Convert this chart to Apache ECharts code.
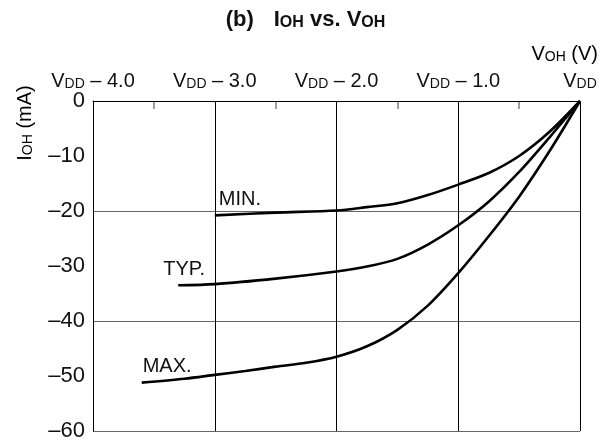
<!DOCTYPE html>
<html>
<head>
<meta charset="utf-8">
<script src="https://cdn.jsdelivr.net/npm/echarts@6/dist/echarts.min.js"></script>
<style>
  html, body { margin: 0; padding: 0; background: #fff; }
  #chart { width: 611px; height: 442px; }
</style>
</head>
<body>
<div id="chart"></div>
<script>
// Output current vs. output voltage, measured downward from VDD
const xTickVolts = [-4, -3, -2, -1, 0];
const xTickSuffix = [' – 4.0', ' – 3.0', ' – 2.0', ' – 1.0', ''];
const xHalfTicks = [-3.5, -2.5, -1.5, -0.5];
const yTickValues = [0, -10, -20, -30, -40, -50, -60];
const yTickLabels = ['0', '–10', '–20', '–30', '–40', '–50', '–60'];

const curveNames = ['MIN.', 'TYP.', 'MAX.'];

const voltsMin = [-3.0, -2.5, -2.0, -1.75, -1.5, -1.25, -1.0, -0.75, -0.5, -0.25, 0];
const currentMin = [-20.8, -20.3, -19.9, -19.3, -18.6, -17.1, -15.2, -13.1, -10.0, -5.6, 0];

const voltsTyp = [-3.3, -3.0, -2.5, -2.0, -1.75, -1.5, -1.25, -1.0, -0.75, -0.5, -0.25, 0];
const currentTyp = [-33.5, -33.3, -32.3, -31.0, -30.1, -28.7, -26.1, -22.6, -18.3, -12.9, -6.6, 0];

const voltsMax = [-3.6, -3.25, -3.0, -2.75, -2.5, -2.25, -2.0, -1.75, -1.5, -1.25, -1.0, -0.75, -0.5, -0.25, 0];
const currentMax = [-51.2, -50.5, -49.8, -49.1, -48.3, -47.6, -46.5, -44.6, -41.6, -37.2, -31.3, -24.6, -17.4, -9.1, 0];

const FONT = 'Liberation Sans, Arial, Helvetica, sans-serif';

const subRich = {
  v: { fontFamily: FONT, fontSize: 20, color: '#111', lineHeight: 22, verticalAlign: 'bottom' },
  s: { fontFamily: FONT, fontSize: 14, color: '#111', lineHeight: 18, verticalAlign: 'bottom' }
};

// Curve label sits just above the first (leftmost) point of each curve
const labelShift = [[4, 0], [-15, 0], [1, 0]];

function buildSeries(idx, xs, ys) {
  const data = xs.map((x, i) => {
    if (i === 0) {
      return {
        value: [x, ys[i]],
        label: {
          show: true,
          formatter: curveNames[idx],
          position: 'top',
          align: 'left',
          distance: 6,
          offset: labelShift[idx],
          fontFamily: FONT,
          fontSize: 20,
          color: '#111'
        }
      };
    }
    return [x, ys[i]];
  });
  return {
    name: curveNames[idx],
    type: 'line',
    xAxisIndex: 0,
    yAxisIndex: 0,
    data: data,
    smooth: 0.3,
    symbol: 'circle',
    symbolSize: 0,
    showSymbol: true,
    lineStyle: { color: '#000', width: 2.6 },
    itemStyle: { color: '#000' },
    label: { show: false },
    emphasis: { disabled: true },
    z: 5
  };
}

const chart = echarts.init(document.getElementById('chart'), null, { renderer: 'canvas' });

chart.setOption({
  animation: false,
  backgroundColor: '#fff',
  title: {
    text: '{b|(b)}{gap|}{b|I}{s|OH}{b| vs. V}{s|OH}',
    left: 'center',
    top: 0,
    textStyle: {
      rich: {
        b: { fontFamily: FONT, fontWeight: 'bold', fontSize: 22, color: '#111', lineHeight: 26, verticalAlign: 'bottom' },
        s: { fontFamily: FONT, fontWeight: 'bold', fontSize: 16, color: '#111', lineHeight: 21, verticalAlign: 'bottom' },
        gap: { width: 20 }
      }
    }
  },
  grid: { left: 93, right: 31, top: 101, bottom: 10, containLabel: false },
  xAxis: [{
    type: 'value',
    position: 'top',
    min: -4,
    max: 0,
    interval: 1,
    axisLine: { show: true, onZero: false, lineStyle: { color: '#000', width: 1 } },
    axisTick: { show: false },
    splitLine: { show: true, lineStyle: { color: '#000', width: 1 } },
    axisLabel: {
      margin: 10,
      formatter: function (v) {
        const i = xTickVolts.indexOf(Math.round(v));
        return '{v|V}{s|DD}{v|' + (i >= 0 ? xTickSuffix[i] : '') + '}';
      },
      rich: subRich
    },
    z: 3
  }, {
    // short inward ticks at the half-volt steps
    type: 'value',
    position: 'top',
    min: -4,
    max: 0,
    axisLine: { show: false },
    axisLabel: { show: false },
    splitLine: { show: false },
    axisTick: {
      show: true,
      inside: true,
      length: 8,
      customValues: xHalfTicks,
      lineStyle: { color: '#888', width: 1.6 }
    }
  }],
  yAxis: [{
    type: 'value',
    min: -60,
    max: 0,
    interval: 10,
    axisLine: { show: true, onZero: false, lineStyle: { color: '#000', width: 1 } },
    axisTick: { show: false },
    splitLine: { show: false },
    axisLabel: {
      margin: 8,
      fontFamily: FONT,
      fontSize: 22,
      color: '#111',
      formatter: function (v) {
        const i = yTickValues.indexOf(Math.round(v));
        return i >= 0 ? yTickLabels[i] : '';
      }
    }
  }, {
    // carries the horizontal rules every 20 mA
    type: 'value',
    min: -60,
    max: 0,
    interval: 20,
    position: 'right',
    axisLine: { show: false },
    axisTick: { show: false },
    axisLabel: { show: false },
    splitLine: { show: true, lineStyle: { color: '#666', width: 1.2 } }
  }],
  graphic: [{
    type: 'text',
    x: 24,
    y: 123,
    rotation: Math.PI / 2,
    style: {
      text: '{v|I}{s|OH}{v| (mA)}',
      align: 'center',
      verticalAlign: 'middle',
      rich: subRich
    }
  }, {
    type: 'text',
    right: 13,
    top: 44,
    style: {
      text: '{v|V}{s|OH}{v| (V)}',
      align: 'right',
      rich: subRich
    }
  }],
  series: [
    buildSeries(0, voltsMin, currentMin),
    buildSeries(1, voltsTyp, currentTyp),
    buildSeries(2, voltsMax, currentMax)
  ]
});
</script>
</body>
</html>
